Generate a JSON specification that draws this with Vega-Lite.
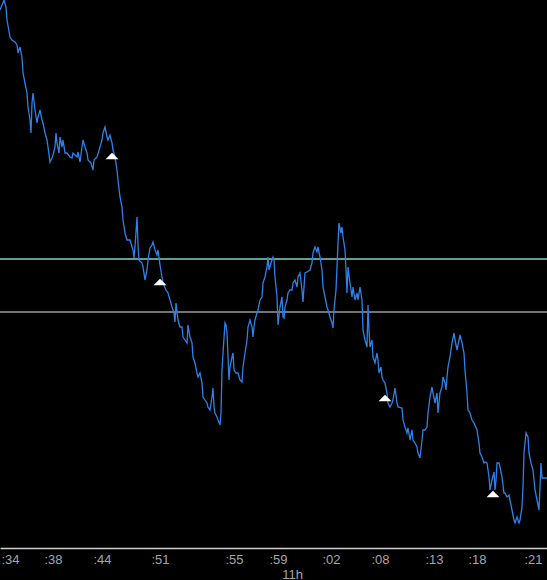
{
  "$schema": "https://vega.github.io/schema/vega-lite/v6.json",
  "width": 547,
  "height": 548,
  "autosize": {"type": "none"},
  "padding": {"left": 0, "right": 0, "top": 0, "bottom": 32},
  "background": "#000000",
  "config": {"view": {"stroke": null}},
  "datasets": {
    "levels": [
      {"kind": "upper", "level": 32.89},
      {"kind": "lower", "level": 32.36}
    ],
    "signals": [
      {"t": 112, "p": 33.92},
      {"t": 160, "p": 32.66},
      {"t": 385, "p": 31.50},
      {"t": 493, "p": 30.54}
    ],
    "price": [
      {"t":0,"p":35.38},{"t":4,"p":35.48},{"t":6,"p":35.41},{"t":7,"p":35.28},{"t":10,"p":35.11},{"t":12,"p":35.08},{"t":15,"p":35.06},{"t":17,"p":35.03},{"t":18,"p":34.95},{"t":20,"p":35.01},
      {"t":22,"p":34.90},{"t":23,"p":34.75},{"t":25,"p":34.65},{"t":27,"p":34.55},{"t":28,"p":34.41},{"t":30,"p":34.28},{"t":31,"p":34.15},{"t":32,"p":34.45},{"t":33,"p":34.55},{"t":35,"p":34.38},
      {"t":37,"p":34.25},{"t":38,"p":34.31},{"t":40,"p":34.38},{"t":42,"p":34.28},{"t":43,"p":34.25},{"t":45,"p":34.15},{"t":47,"p":34.08},{"t":48,"p":34.01},{"t":50,"p":33.86},{"t":52,"p":33.90},
      {"t":53,"p":33.93},{"t":55,"p":34.01},{"t":56,"p":34.15},{"t":57,"p":34.05},{"t":59,"p":33.95},{"t":60,"p":34.11},{"t":62,"p":34.01},{"t":63,"p":34.08},{"t":65,"p":33.95},{"t":67,"p":33.95},
      {"t":70,"p":33.91},{"t":72,"p":33.90},{"t":73,"p":33.95},{"t":75,"p":33.93},{"t":77,"p":33.91},{"t":78,"p":33.96},{"t":80,"p":33.86},{"t":82,"p":34.01},{"t":83,"p":34.08},{"t":85,"p":34.01},
      {"t":87,"p":33.95},{"t":88,"p":33.88},{"t":91,"p":33.85},{"t":93,"p":33.78},{"t":94,"p":33.88},{"t":97,"p":33.91},{"t":100,"p":34.01},{"t":102,"p":34.08},{"t":103,"p":34.15},{"t":105,"p":34.21},
      {"t":107,"p":34.11},{"t":108,"p":34.08},{"t":110,"p":34.13},{"t":112,"p":34.05},{"t":113,"p":33.98},{"t":115,"p":33.91},{"t":117,"p":33.78},{"t":118,"p":33.68},
      {"t":120,"p":33.51},{"t":122,"p":33.41},{"t":123,"p":33.28},{"t":125,"p":33.15},{"t":127,"p":33.08},{"t":130,"p":33.08},{"t":133,"p":32.98},{"t":134,"p":32.90},{"t":135,"p":33.01},{"t":137,"p":33.31},
      {"t":138,"p":33.03},{"t":139,"p":32.88},{"t":142,"p":32.85},{"t":143,"p":32.81},{"t":145,"p":32.68},{"t":147,"p":32.78},{"t":148,"p":32.88},{"t":150,"p":33.00},{"t":152,"p":33.03},{"t":153,"p":33.06},
      {"t":155,"p":32.98},{"t":157,"p":32.93},{"t":158,"p":32.98},{"t":160,"p":32.83},{"t":162,"p":32.71},{"t":163,"p":32.65},{"t":166,"p":32.58},{"t":168,"p":32.55},{"t":170,"p":32.48},{"t":172,"p":32.41},
      {"t":174,"p":32.35},{"t":175,"p":32.26},{"t":176,"p":32.45},{"t":178,"p":32.28},{"t":180,"p":32.21},
      {"t":182,"p":32.21},{"t":183,"p":32.11},{"t":185,"p":32.08},{"t":187,"p":32.05},{"t":188,"p":32.23},{"t":190,"p":32.11},{"t":192,"p":32.05},{"t":193,"p":31.91},{"t":195,"p":31.85},{"t":197,"p":31.75},
      {"t":198,"p":31.71},{"t":200,"p":31.75},{"t":202,"p":31.65},{"t":203,"p":31.51},{"t":205,"p":31.48},{"t":207,"p":31.45},{"t":208,"p":31.41},{"t":210,"p":31.38},{"t":212,"p":31.51},{"t":213,"p":31.60},
      {"t":214,"p":31.41},{"t":215,"p":31.35},{"t":217,"p":31.31},{"t":218,"p":31.28},{"t":220,"p":31.23},{"t":221,"p":31.35},{"t":222,"p":31.78},{"t":223,"p":31.95},{"t":225,"p":32.25},{"t":226,"p":32.23},
      {"t":227,"p":32.15},{"t":229,"p":31.68},{"t":230,"p":31.81},{"t":232,"p":31.91},{"t":233,"p":31.95},{"t":234,"p":31.78},{"t":236,"p":31.75},{"t":238,"p":31.75},{"t":240,"p":31.68},{"t":242,"p":31.66},
      {"t":243,"p":31.81},{"t":245,"p":31.95},{"t":247,"p":32.08},{"t":248,"p":32.21},{"t":250,"p":32.28},{"t":252,"p":32.21},{"t":253,"p":32.11},{"t":254,"p":32.21},{"t":255,"p":32.28},{"t":257,"p":32.35},
      {"t":258,"p":32.38},{"t":260,"p":32.48},{"t":262,"p":32.51},{"t":263,"p":32.65},{"t":264,"p":32.68},{"t":265,"p":32.71},{"t":267,"p":32.81},{"t":268,"p":32.91},{"t":269,"p":32.78},{"t":271,"p":32.85},
      {"t":272,"p":32.88},{"t":273,"p":32.91},{"t":274,"p":32.88},{"t":275,"p":32.71},{"t":277,"p":32.51},{"t":278,"p":32.23},{"t":280,"p":32.41},{"t":282,"p":32.51},{"t":283,"p":32.31},{"t":284,"p":32.30},
      {"t":285,"p":32.41},{"t":287,"p":32.48},{"t":288,"p":32.55},{"t":290,"p":32.58},{"t":292,"p":32.58},{"t":293,"p":32.65},{"t":295,"p":32.68},{"t":297,"p":32.61},{"t":298,"p":32.71},{"t":300,"p":32.75},
      {"t":302,"p":32.58},{"t":303,"p":32.46},{"t":304,"p":32.61},{"t":305,"p":32.75},{"t":307,"p":32.76},{"t":310,"p":32.78},{"t":312,"p":32.85},{"t":313,"p":32.95},{"t":315,"p":33.01},{"t":317,"p":32.96},
      {"t":318,"p":33.01},{"t":320,"p":32.91},{"t":322,"p":32.78},{"t":323,"p":32.61},{"t":325,"p":32.51},{"t":327,"p":32.41},{"t":328,"p":32.38},{"t":330,"p":32.31},{"t":332,"p":32.25},{"t":333,"p":32.20},
      {"t":334,"p":32.38},{"t":336,"p":32.58},{"t":337,"p":32.81},{"t":338,"p":33.05},{"t":339,"p":33.25},{"t":341,"p":33.15},{"t":342,"p":33.21},{"t":343,"p":33.11},{"t":345,"p":32.98},{"t":346,"p":32.78},
      {"t":347,"p":32.55},{"t":348,"p":32.81},{"t":350,"p":32.65},{"t":352,"p":32.51},{"t":353,"p":32.61},{"t":355,"p":32.48},{"t":357,"p":32.55},{"t":358,"p":32.48},{"t":360,"p":32.61},{"t":362,"p":32.48},
      {"t":363,"p":32.18},{"t":365,"p":32.08},{"t":367,"p":32.01},{"t":368,"p":32.43},{"t":369,"p":32.18},{"t":370,"p":32.01},{"t":372,"p":32.08},{"t":373,"p":31.91},{"t":375,"p":31.85},{"t":377,"p":31.95},
      {"t":378,"p":31.88},{"t":379,"p":31.75},{"t":381,"p":31.81},{"t":382,"p":31.71},{"t":383,"p":31.68},{"t":385,"p":31.65},{"t":387,"p":31.55},{"t":388,"p":31.45},{"t":390,"p":31.41},{"t":392,"p":31.45},
      {"t":393,"p":31.48},{"t":395,"p":31.60},{"t":397,"p":31.45},{"t":398,"p":31.41},{"t":402,"p":31.40},{"t":403,"p":31.28},{"t":405,"p":31.21},{"t":407,"p":31.15},{"t":408,"p":31.20},{"t":410,"p":31.08},
      {"t":412,"p":31.18},{"t":413,"p":31.08},{"t":415,"p":31.05},{"t":417,"p":31.01},{"t":418,"p":30.95},{"t":420,"p":30.90},{"t":422,"p":31.08},{"t":423,"p":31.18},{"t":425,"p":31.18},{"t":427,"p":31.21},
      {"t":428,"p":31.35},{"t":430,"p":31.51},{"t":432,"p":31.61},{"t":433,"p":31.55},{"t":435,"p":31.45},{"t":437,"p":31.55},{"t":438,"p":31.35},{"t":440,"p":31.55},{"t":442,"p":31.61},{"t":443,"p":31.71},
      {"t":445,"p":31.65},{"t":446,"p":31.58},{"t":447,"p":31.71},{"t":448,"p":31.81},{"t":450,"p":31.91},
      {"t":452,"p":32.05},{"t":454,"p":32.15},{"t":455,"p":32.08},{"t":457,"p":31.98},{"t":459,"p":32.08},{"t":460,"p":32.13},{"t":462,"p":32.05},{"t":464,"p":31.95},{"t":465,"p":31.78},{"t":467,"p":31.55},
      {"t":468,"p":31.38},{"t":470,"p":31.35},{"t":472,"p":31.28},{"t":474,"p":31.25},{"t":477,"p":31.18},{"t":479,"p":31.05},{"t":480,"p":30.95},{"t":482,"p":30.91},{"t":484,"p":30.85},{"t":485,"p":30.86},
      {"t":487,"p":30.85},{"t":489,"p":30.71},{"t":490,"p":30.58},{"t":492,"p":30.68},{"t":494,"p":30.76},{"t":495,"p":30.58},{"t":496,"p":30.68},{"t":497,"p":30.85},{"t":499,"p":30.85},{"t":500,"p":30.81},
      {"t":502,"p":30.71},{"t":504,"p":30.55},{"t":505,"p":30.55},{"t":507,"p":30.51},{"t":509,"p":30.53},{"t":510,"p":30.48},{"t":512,"p":30.38},{"t":514,"p":30.28},{"t":515,"p":30.25},{"t":517,"p":30.31},
      {"t":519,"p":30.25},{"t":520,"p":30.28},{"t":522,"p":30.41},{"t":523,"p":30.61},{"t":524,"p":30.95},{"t":526,"p":31.15},{"t":528,"p":31.11},{"t":529,"p":30.95},{"t":531,"p":30.85},{"t":533,"p":30.78},
      {"t":534,"p":30.68},{"t":535,"p":30.58},{"t":537,"p":30.48},{"t":539,"p":30.38},{"t":540,"p":30.61},{"t":541,"p":30.85},{"t":542,"p":30.70},{"t":547,"p":30.70}
    ]
  },
  "layer": [
    {
      "data": {"name": "levels"},
      "mark": {"type": "rule", "strokeWidth": 1.5},
      "encoding": {
        "y": {"field": "level", "type": "quantitative", "scale": {"domain": [30.0, 35.48], "nice": false, "zero": false}, "axis": null},
        "color": {"field": "kind", "type": "nominal", "scale": {"domain": ["upper", "lower"], "range": ["#86cfc8", "#9b9b9b"]}, "legend": null}
      }
    },
    {
      "data": {"name": "price"},
      "mark": {"type": "line", "color": "#2f80e8", "strokeWidth": 1.3},
      "encoding": {
        "x": {
          "field": "t", "type": "quantitative",
          "scale": {"domain": [0, 547], "nice": false, "zero": false},
          "axis": {
            "title": "11h",
            "values": [10, 53, 102, 160, 234, 278, 331, 380, 434, 477, 533],
            "labelExpr": "datum.value==10?':34':datum.value==53?':38':datum.value==102?':44':datum.value==160?':51':datum.value==234?':55':datum.value==278?':59':datum.value==331?':02':datum.value==380?':08':datum.value==434?':13':datum.value==477?':18':':21'",
            "grid": false,
            "ticks": false,
            "domainColor": "#d0d0d0",
            "domainWidth": 1.5,
            "labelColor": "#a6a6a6",
            "labelFont": "Liberation Sans Narrow, Liberation Sans, sans-serif",
            "labelFontSize": 13,
            "labelPadding": 5,
            "labelOverlap": false,
            "labelFlush": false,
            "titleColor": "#a6a6a6",
            "titleFont": "Liberation Sans Narrow, Liberation Sans, sans-serif",
            "titleFontSize": 13,
            "titleFontWeight": "normal",
            "titlePadding": 2,
            "titleX": 292,
            "titleAlign": "center"
          }
        },
        "y": {"field": "p", "type": "quantitative", "scale": {"domain": [30.0, 35.48], "nice": false, "zero": false}, "axis": null}
      }
    },
    {
      "data": {"name": "signals"},
      "mark": {"type": "point", "shape": "M-1,0.5L1,0.5L0,-0.5Z", "filled": true, "color": "#ffffff", "opacity": 1, "size": 169, "strokeWidth": 0},
      "encoding": {
        "x": {"field": "t", "type": "quantitative"},
        "y": {"field": "p", "type": "quantitative"}
      }
    }
  ]
}
